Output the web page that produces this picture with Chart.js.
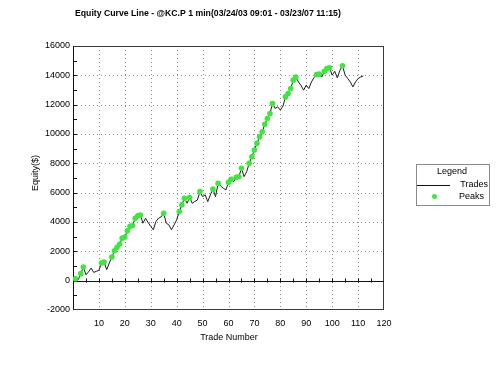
<!DOCTYPE html>
<html><head><meta charset="utf-8">
<script src="https://cdn.jsdelivr.net/npm/chart.js@4.4.1/dist/chart.umd.min.js"></script>
<style>html,body{margin:0;padding:0;background:#fff}#wrap{width:500px;height:373px}</style>
</head><body><div id="wrap"><canvas id="c" width="500" height="373"></canvas></div>
<script>
const titleText = "Equity Curve Line - @KC.P 1 min(03/24/03 09:01 - 03/23/07 11:15)";
const xTitle = "Trade Number";
const yTitle = "Equity($)";
const legendTitle = "Legend";
const seriesNames = ["Trades", "Peaks"];
const xTickValues = [10, 20, 30, 40, 50, 60, 70, 80, 90, 100, 110, 120];
const yTickValues = [-2000, 0, 2000, 4000, 6000, 8000, 10000, 12000, 14000, 16000];

// equity after each trade, index = trade number
const equity = [
  0, 120, 60, 480, 930, 400, 600, 860, 560, 640,
  700, 1200, 1270, 750, 1200, 1610, 2040, 2280, 2500, 2900,
  2970, 3400, 3700, 3760, 4260, 4420, 4470, 3920, 4260, 3960,
  3700, 3470, 4030, 4260, 4350, 4600, 3920, 3800, 3470, 3800,
  4150, 4710, 5170, 5620, 5280, 5660, 5280, 5400, 5500, 6070,
  5730, 5850, 5390, 5850, 6240, 5730, 6640, 6450, 6300, 6190,
  6700, 6910, 6750, 7050, 7090, 7660, 7090, 7430, 8000, 8450,
  8910, 9360, 9810, 10150, 10660, 11060, 11400, 12080, 11740, 11850,
  11630, 11900, 12530, 12760, 13100, 13670, 13890, 13550, 13300, 12990,
  13330, 13100, 13550, 13850, 14050, 14080, 13890, 14280, 14460, 14520,
  14010, 14280, 13820, 14350, 14650, 14010, 13780, 13550, 13210, 13550,
  13780, 13890, 13950
];

const peakTrades = [1, 3, 4, 11, 12, 15, 16, 17, 18, 19, 20, 21, 22, 23, 24, 25, 26, 35, 41, 42, 43, 45, 49, 54, 56, 60, 61, 63, 64, 65, 68, 69, 70, 71, 72, 73, 74, 75, 76, 77, 82, 83, 84, 85, 86, 94, 95, 97, 98, 99, 104];
const peakEquity = [120, 480, 930, 1200, 1270, 1610, 2040, 2280, 2500, 2900, 2970, 3400, 3700, 3760, 4260, 4420, 4470, 4600, 4710, 5170, 5620, 5660, 6070, 6240, 6640, 6700, 6910, 7050, 7090, 7660, 8000, 8450, 8910, 9360, 9810, 10150, 10660, 11060, 11400, 12080, 12530, 12760, 13100, 13670, 13890, 14050, 14080, 14280, 14460, 14520, 14650];

const tradePoints = equity.map((v, i) => ({x: i, y: v}));
const peakPoints = peakTrades.map((t, i) => ({x: t, y: peakEquity[i]}));

const FONT = '"Liberation Sans", Arial, sans-serif';
const GREEN = '#3ce83c';

const decor = {
  id: 'decor',
  beforeDatasetsDraw(chart) {
    const {ctx, chartArea: a, scales: {x, y}} = chart;
    ctx.save();
    ctx.strokeStyle = '#8c8c8c';
    ctx.lineWidth = 1;
    ctx.setLineDash([1, 3]);
    xTickValues.forEach(v => {
      if (v >= x.max) return;
      const px = Math.round(x.getPixelForValue(v)) + 0.5;
      ctx.beginPath(); ctx.moveTo(px, a.top); ctx.lineTo(px, a.bottom); ctx.stroke();
    });
    yTickValues.forEach(v => {
      if (v <= y.min || v >= y.max || v === 0) return;
      const py = Math.round(y.getPixelForValue(v)) + 0.5;
      ctx.beginPath(); ctx.moveTo(a.left, py); ctx.lineTo(a.right, py); ctx.stroke();
    });
    ctx.setLineDash([]);
    ctx.strokeStyle = '#3a3a3a';
    ctx.strokeRect(a.left + 0.5, a.top + 0.5, a.right - a.left - 1, a.bottom - a.top - 1);
    const y0 = Math.round(y.getPixelForValue(0)) + 0.5;
    ctx.strokeStyle = '#111';
    ctx.beginPath(); ctx.moveTo(a.left, y0); ctx.lineTo(a.right, y0); ctx.stroke();
    for (let v = 5; v < x.max; v += 5) {
      const px = Math.round(x.getPixelForValue(v)) + 0.5;
      ctx.beginPath(); ctx.moveTo(px, y0 - 3); ctx.lineTo(px, y0 + 1); ctx.stroke();
    }
    for (let v = y.min + 1000; v < y.max; v += 1000) {
      const py = Math.round(y.getPixelForValue(v)) + 0.5;
      ctx.beginPath(); ctx.moveTo(a.left, py); ctx.lineTo(a.left + 4, py); ctx.stroke();
    }
    ctx.beginPath(); ctx.moveTo(a.left + 0.5, a.top); ctx.lineTo(a.left + 0.5, a.bottom); ctx.stroke();
    ctx.restore();
  },
  afterDraw(chart) {
    const {ctx} = chart;
    ctx.save();
    ctx.fillStyle = '#000';
    ctx.font = 'bold 8.7px ' + FONT;
    ctx.textBaseline = 'middle';
    ctx.textAlign = 'left';
    ctx.fillText(titleText, 75, 14);
    ctx.font = '9px ' + FONT;
    ctx.textAlign = 'center';
    ctx.fillText(xTitle, 229, 338);
    ctx.save();
    ctx.translate(36, 173);
    ctx.rotate(-Math.PI / 2);
    ctx.fillText(yTitle, 0, 0);
    ctx.restore();
    ctx.strokeStyle = '#8a8a8a';
    ctx.lineWidth = 1;
    ctx.strokeRect(416.5, 164.5, 73, 41);
    ctx.fillText(legendTitle, 452, 172);
    ctx.strokeStyle = '#111';
    ctx.beginPath(); ctx.moveTo(417, 185.5); ctx.lineTo(450, 185.5); ctx.stroke();
    ctx.textAlign = 'right';
    ctx.fillText(seriesNames[0], 488, 185);
    ctx.fillText(seriesNames[1], 484, 197);
    ctx.fillStyle = GREEN;
    ctx.beginPath(); ctx.arc(434.5, 196.5, 2.5, 0, Math.PI * 2); ctx.fill();
    ctx.restore();
  }
};

new Chart(document.getElementById('c'), {
  type: 'line',
  data: {
    datasets: [
      {
        label: seriesNames[1], type: 'scatter', data: peakPoints, showLine: false,
        pointRadius: 2.8, pointHoverRadius: 2.8, backgroundColor: GREEN, borderColor: GREEN, borderWidth: 0, order: 0
      },
      {
        label: seriesNames[0], data: tradePoints, borderColor: '#1c1c1c', borderWidth: 1,
        pointRadius: 0, tension: 0, fill: false, order: 1
      }
    ]
  },
  options: {
    responsive: false, animation: false, devicePixelRatio: 1,
    layout: {padding: {top: 46, right: 116, left: 0, bottom: 0}},
    plugins: {legend: {display: false}, title: {display: false}, tooltip: {enabled: false}},
    scales: {
      x: {
        type: 'linear', position: 'bottom', min: 0, max: 120,
        afterBuildTicks: s => { s.ticks = xTickValues.map(v => ({value: v})); },
        ticks: {font: {family: FONT, size: 9}, color: '#000', padding: 8, maxRotation: 0, autoSkip: false,
          callback: v => String(v)},
        grid: {display: false, drawTicks: false}, border: {display: false},
        afterFit: s => { s.height = 63; }
      },
      y: {
        type: 'linear', min: -2000, max: 16000,
        afterBuildTicks: s => { s.ticks = yTickValues.map(v => ({value: v})); },
        ticks: {font: {family: FONT, size: 9}, color: '#000', padding: 3, autoSkip: false,
          callback: v => String(v)},
        grid: {display: false, drawTicks: false}, border: {display: false},
        afterFit: s => { s.width = 73; }
      }
    }
  },
  plugins: [decor]
});
</script></body></html>
